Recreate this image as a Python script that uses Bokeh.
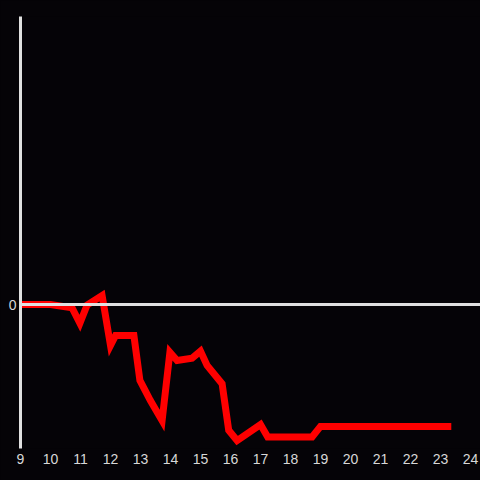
from bokeh.plotting import figure
from bokeh.models import Range1d, FixedTicker, Span, GlobalInlineStyleSheet
from bokeh.embed import file_html
from bokeh.resources import INLINE

# data (hour of day, value)
hours = [9.0, 10.0, 10.72, 10.98, 11.22, 11.72, 12.0, 12.17, 12.78, 12.98,
         13.33, 13.72, 13.98, 14.22, 14.72, 15.0, 15.22, 15.72, 15.94, 16.22,
         17.0, 17.24, 18.72, 19.0, 23.36]
values = [0.0, 0.0, -0.35, -1.95, -0.05, 0.94, -4.27, -3.23, -3.23, -7.9,
          -10.0, -12.1, -4.97, -5.83, -5.6, -4.86, -6.35, -8.26, -13.1, -14.17,
          -12.5, -13.8, -13.8, -12.7, -12.7]
x_ticks = list(range(9, 25))
y_ticks = [0]

BG = "#050307"

p = figure(width=480, height=480, output_backend="svg", toolbar_location=None,
           x_range=Range1d(9, 9 + 460 / 30), y_range=Range1d(-15, 30),
           min_border_left=20, min_border_right=0, min_border_top=16,
           min_border_bottom=32)
p.background_fill_color = BG
p.border_fill_color = BG
p.outline_line_color = None
p.grid.visible = False

for ax in p.xaxis:
    ax.ticker = FixedTicker(ticks=x_ticks)
    ax.axis_line_color = None
    ax.major_tick_line_color = None
    ax.minor_tick_line_color = None
    ax.major_tick_out = 0
    ax.major_label_standoff = 5
    ax.major_label_text_color = "#d8d8d8"
    ax.major_label_text_font = "Liberation Sans"
    ax.major_label_text_font_size = "14px"

for ax in p.yaxis:
    ax.ticker = FixedTicker(ticks=y_ticks)
    ax.axis_line_color = "#e0e0e0"
    ax.axis_line_width = 3
    ax.major_tick_line_color = None
    ax.minor_tick_line_color = None
    ax.major_tick_out = 0
    ax.major_label_standoff = 4
    ax.major_label_text_color = "#d8d8d8"
    ax.major_label_text_font = "Liberation Sans"
    ax.major_label_text_font_size = "14px"

p.add_layout(Span(location=0, dimension="width", line_color="#e0e0e0", line_width=3))

p.line(hours, values, line_color="#ff0000", line_width=7,
       line_join="miter", line_cap="butt")

p.stylesheets = [GlobalInlineStyleSheet(css="html, body { background: %s; margin: 0; padding: 0; overflow: hidden; }" % BG)]

open("out.html", "w").write(file_html(p, INLINE))
